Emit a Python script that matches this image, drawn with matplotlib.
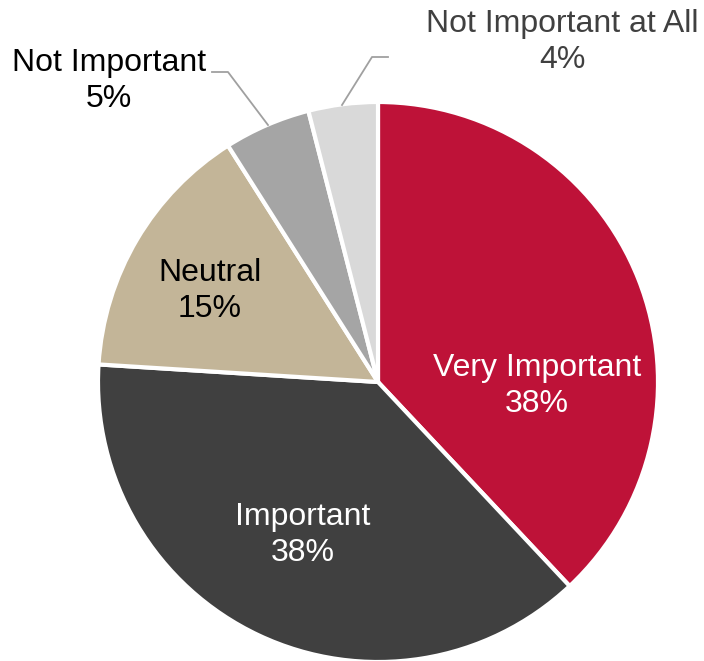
import matplotlib.pyplot as plt

plt.rcParams['font.family'] = ['Liberation Sans', 'DejaVu Sans']

categories = ["Very Important", "Important", "Neutral", "Not Important", "Not Important at All"]
shares = [38, 38, 15, 5, 4]
colors = ["#BE1238", "#404040", "#C3B598", "#A5A5A5", "#D9D9D9"]
text_colors = ["white", "white", "black", "black", "#404040"]

# label placement in pixel coordinates (origin bottom left)
label_pos = [(537, 275), (303, 126), (210, 370), (109, 580), (562, 619)]

fig = plt.figure(figsize=(7.04, 6.61), dpi=100)
ax = fig.add_axes([0, 0, 1, 1])

ax.pie(shares, colors=colors, startangle=90, counterclock=False,
       center=(378, 279), radius=280,
       wedgeprops=dict(edgecolor="white", linewidth=3))

for name, v, (x, y), c in zip(categories, shares, label_pos, text_colors):
    ax.text(x, y, f"{name}\n{v}%", ha="center", va="center", color=c,
            fontsize=23, linespacing=1.28)

# leader lines for the two small slices
ax.plot([212, 228, 268], [589, 589, 536], color="#A0A0A0", lw=1.3)
ax.plot([388, 372, 342], [604, 604, 556], color="#A0A0A0", lw=1.3)

ax.set_xlim(0, 704)
ax.set_ylim(0, 661)
ax.set_aspect("auto")
ax.axis("off")

fig.savefig("out.png", dpi=100)
